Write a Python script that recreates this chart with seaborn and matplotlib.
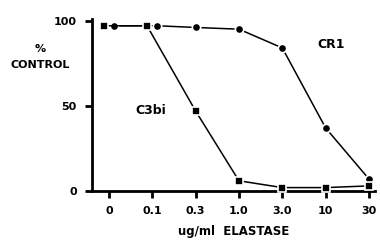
import numpy as np
import pandas as pd
import seaborn as sns
import matplotlib.pyplot as plt

# Data
doses = ["0", "0.1", "0.3", "1.0", "3.0", "10", "30"]
cr1 = [97, 97, 96, 95, 84, 37, 7]
c3bi = [97, 97, 47, 6, 2, 2, 3]

pos = np.arange(len(doses))
# small dodge where the two series overlap
close = np.abs(np.array(cr1) - np.array(c3bi)) < 5
dodge = np.where(close & (pos < 2), 0.12, 0.0)

df = pd.concat([
    pd.DataFrame({"pos": pos + dodge, "value": cr1, "series": "CR1"}),
    pd.DataFrame({"pos": pos - dodge, "value": c3bi, "series": "C3bi"}),
])

sns.set_style("ticks")
plt.rcParams['font.family'] = ['DejaVu Sans']
plt.rcParams['font.weight'] = 'bold'
plt.rcParams['text.color'] = 'black'
plt.rcParams['axes.labelcolor'] = 'black'
plt.rcParams['xtick.color'] = 'black'
plt.rcParams['ytick.color'] = 'black'
plt.rcParams['axes.edgecolor'] = 'black'

fig = plt.figure(figsize=(3.8, 2.43), dpi=100)
ax = fig.add_axes([0.242, 0.214, 0.745, 0.708])

sns.lineplot(data=df, x="pos", y="value", hue="series", style="series",
             markers={"CR1": "o", "C3bi": "s"}, dashes=False,
             palette={"CR1": "black", "C3bi": "black"},
             markersize=6, markeredgecolor="white", markeredgewidth=1.2,
             linewidth=1.1, legend=False, ax=ax, clip_on=False, zorder=3)

ax.set_xlim(-0.39, 6.14)
ax.set_ylim(0, 101)
ax.set_xticks(pos)
ax.set_xticklabels(doses)
ax.set_yticks([0, 50, 100])
ax.set_yticklabels(["0", "50", "100"])
ax.tick_params(axis="both", length=5, width=2, labelsize=8, pad=6)
for s in ["left", "bottom"]:
    ax.spines[s].set_linewidth(2)
sns.despine(ax=ax)

ax.set_xlabel("ug/ml  ELASTASE", fontsize=8.5, fontweight="bold", labelpad=6)
ax.set_ylabel("")
fig.text(0.105, 0.80, "%", ha="center", va="center",
         fontsize=8, fontweight="bold")
fig.text(0.105, 0.733, "CONTROL", ha="center", va="center",
         fontsize=8, fontweight="bold")

ax.text(4.8, 84, "CR1", fontsize=9, fontweight="bold")
ax.text(0.6, 45, "C3bi", fontsize=9, fontweight="bold")

fig.savefig("out.png", dpi=100)
